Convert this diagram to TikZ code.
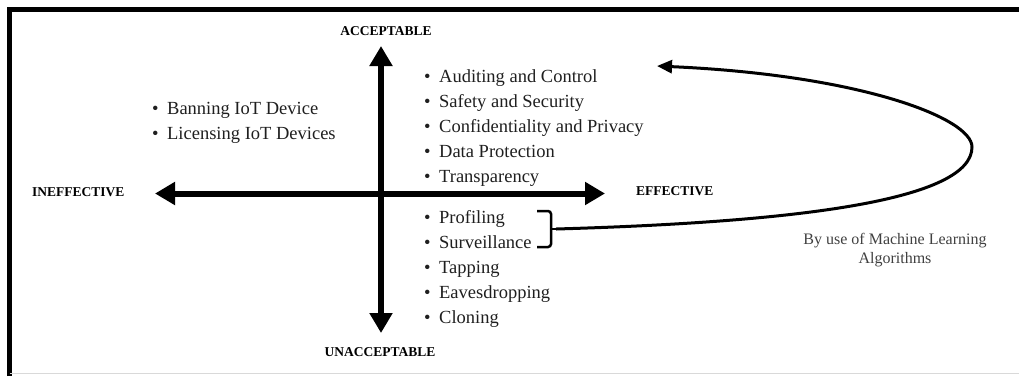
\documentclass[tikz,border=0pt]{standalone}
\usepackage{fontspec}
\setmainfont{Liberation Serif}
\usetikzlibrary{arrows.meta}
\begin{document}
\begin{tikzpicture}[x=1pt,y=-1pt,
		axis/.style={line width=6pt,{Triangle[length=20pt,width=22pt]}-{Triangle[length=20pt,width=22pt]}},
		pole/.style={font=\fontsize{13.5}{16}\selectfont\bfseries,inner sep=0pt},
		item/.style={font=\fontsize{18.5}{25}\selectfont,text=black!88,inner sep=0pt,anchor=base west},
		brace/.style={line width=2.5pt,rounded corners=3pt},
		mlcurve/.style={line width=3pt,-{Triangle[length=15pt,width=13pt]}}]
	\useasboundingbox (0,0) rectangle (1019,376);
	\draw[line width=5pt] (9.5,376) -- (9.5,9.5) -- (1019,9.5);
	\draw[black!15] (9.5,373.5) -- (1019,373.5);
	% axes
	\coordinate (top) at (381,46);
	\coordinate (bottom) at (381,333);
	\coordinate (left) at (155,193.5);
	\coordinate (right) at (605,193.5);
	\draw[axis] (top) -- (bottom);
	\draw[axis] (left) -- (right);
	\node[pole,anchor=base] (acc) at (386,35) {ACCEPTABLE};
	\node[pole,anchor=base] (unacc) at (380,356) {UNACCEPTABLE};
	\node[pole,anchor=base west] (ineff) at (32,196) {INEFFECTIVE};
	\node[pole,anchor=base west] (eff) at (636,195) {EFFECTIVE};
	% lists
	\foreach \txt [count=\i] in {Banning IoT Device,Licensing IoT Devices}
		\node[item] (ban\i) at (152,{89+25*\i}) {\textbullet\hspace{8.5pt}\txt};
	\foreach \txt [count=\i] in {Auditing and Control,Safety and Security,Confidentiality and Privacy,Data Protection,Transparency}
		\node[item] (good\i) at (424,{57+25*\i}) {\textbullet\hspace{8.5pt}\txt};
	\foreach \txt [count=\i] in {Profiling,Surveillance,Tapping,Eavesdropping,Cloning}
		\node[item] (bad\i) at (424,{198+25*\i}) {\textbullet\hspace{8.5pt}\txt};
	% bracket and machine learning loop
	\coordinate (brace) at (556,229);
	\coordinate (ml) at (657,66);
	\draw[brace] (537,211) -- (551,211) -- (551,247) -- (537,247);
	\draw[line width=2.5pt] (551,229) -- (brace);
	\draw[mlcurve] (brace) .. controls (800,222) and (972,200) .. (972,147)
		.. controls (972,118) and (860,75) .. (ml);
	\node[font=\fontsize{16}{19.5}\selectfont,text=black!75,align=center,inner sep=0pt,anchor=north] (mltext) at (895,233) {By use of Machine Learning\\Algorithms};
\end{tikzpicture}
\end{document}
